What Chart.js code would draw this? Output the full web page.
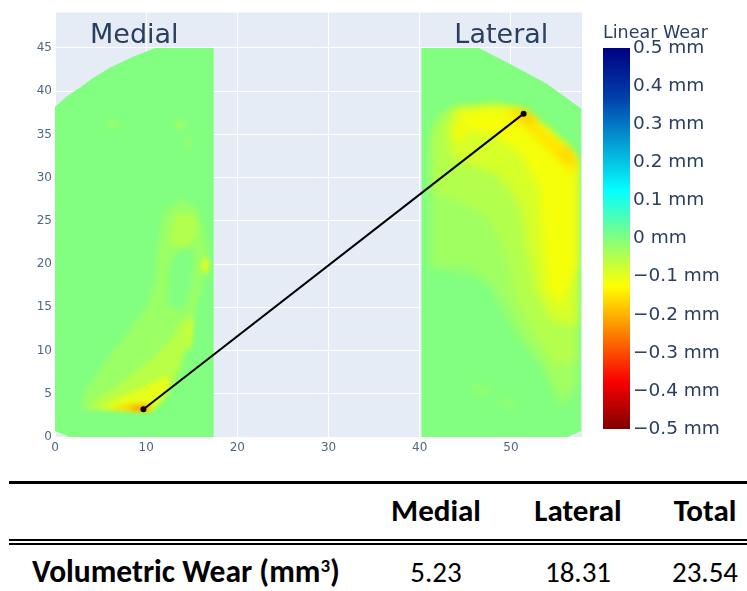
<!DOCTYPE html>
<html>
<head>
<meta charset="utf-8">
<script src="https://cdn.jsdelivr.net/npm/chart.js@4.4.1/dist/chart.umd.min.js"></script>
<style>
  html, body { margin: 0; padding: 0; background: #fff; }
  body { position: relative; width: 747px; height: 591px; overflow: hidden; }
  #chartBox { position: absolute; left: 0; top: 0; width: 747px; height: 460px; }
  .rule { position: absolute; left: 9px; right: 0; background: #000; }
  .cell { position: absolute; width: 150px; margin-left: -75px; text-align: center;
          font-family: "Carlito", "Lato", "Roboto", sans-serif; font-size: 29px; color: #000; line-height: 1; }
  .head { font-weight: bold; font-size: 31px; }
  .label { position: absolute; left: 32px; font-family: "Carlito", "Lato", "Roboto", sans-serif;
           font-weight: bold; font-size: 31.5px; color: #000; line-height: 1; }
  .label sup { font-size: 0.6em; vertical-align: 0.55em; line-height: 0; }
</style>
</head>
<body>
<div id="chartBox"><canvas id="wearChart" width="747" height="460"></canvas></div>
<div id="table"></div>

<script>
// axis ticks
const xTicks = [0, 10, 20, 30, 40, 50];
const yTicks = [0, 5, 10, 15, 20, 25, 30, 35, 40, 45];
const barTicks = [0.5, 0.4, 0.3, 0.2, 0.1, 0, -0.1, -0.2, -0.3, -0.4, -0.5];

// plateau outlines (mm)
const medialOutline = [[0, 38.2], [1.3, 39.4], [2.7, 40.4], [4.3, 41.6], [6, 42.7], [8.6, 44], [11, 45], [17.4, 45], [17.4, 0], [1.6, 0], [0, 0.7]];
const lateralOutline = [[40.2, 45], [46.5, 45], [49.8, 43.2], [53.9, 40.9], [57.7, 38], [57.7, 0.7], [56.2, 0], [40.2, 0]];

// linear wear patches: [wear mm, outline]
const medialPatches = [
  [-0.025, [[2.8, 3.3], [10.4, 3.1], [11.9, 4.3], [14, 8.1], [15.1, 13.2], [16.2, 18.2], [16.9, 20.5], [16.4, 23.5], [15.6, 26.5], [13.8, 27.5], [12, 26], [11.2, 22], [11, 18], [10, 15], [7.5, 11.5], [5, 8], [3.2, 5]]],
  [0, [[12.3, 15.5], [14, 14.5], [15, 17.5], [15.3, 21.5], [14, 22], [12.5, 20]]],
  [-0.055, [[3.5, 3.3], [10.4, 3.1], [11.9, 4.3], [13.3, 7.2], [14.3, 10.5], [14.8, 13.5], [14, 13.5], [12.5, 11], [10, 8.5], [7, 6], [4.5, 4.3]]],
  [-0.1, [[4.8, 3.3], [10.4, 3.1], [11.7, 4.3], [12.7, 6.5], [12, 7], [9.5, 5.6], [7, 4.5]]],
  [-0.17, [[6, 3.2], [10.3, 3.05], [10.9, 3.5], [10, 3.9], [8, 3.8]]],
  [-0.24, [[8, 3.15], [10, 3.05], [10.3, 3.4], [9, 3.5]]],
  [-0.08, [[14.3, 10], [14.9, 10.3], [15.2, 13.5], [14.8, 14], [14.4, 12]]],
  [-0.05, [[12.5, 22.5], [14.3, 21.8], [15.6, 23.5], [15.3, 25.8], [13.3, 25.8]]]
];
const lateralPatches = [
  [-0.03, [[41.2, 35.3], [42, 36.9], [43.8, 38.2], [48.5, 38.5], [51.1, 37.9], [54, 35.6], [56.2, 33.5], [57.2, 31.9], [57.2, 6], [55.5, 3.5], [53.3, 8.5], [50.4, 12.5], [47.9, 17.5], [45, 19.5], [41.2, 19.5]]],
  [-0.05, [[41.5, 34.5], [42.3, 36.7], [43.8, 38], [48.5, 38.3], [51.1, 37.7], [54, 35.4], [56.2, 33.3], [57.2, 31.7], [57.2, 9], [55, 8], [52.5, 12], [50.5, 16], [49.5, 21], [47.5, 25.5], [44, 27.5], [41.5, 28.5]]],
  [-0.085, [[43, 35.5], [43.8, 37.8], [48.5, 38.2], [51.1, 37.6], [54, 35.3], [56.2, 33.2], [57.2, 31.6], [57.2, 13], [54.5, 13.5], [52.7, 17], [51.8, 22], [51, 27], [48.5, 30.5], [45.5, 31.5], [43.5, 32.5]]],
  [-0.115, [[44, 37.5], [48.5, 38.1], [51.1, 37.6], [54, 35.3], [56.2, 33.2], [57.2, 31.6], [57.2, 20], [55.5, 15], [54, 17], [53.5, 23], [53, 29], [51, 33], [48, 35], [45, 35.5]]],
  [-0.15, [[49.5, 38], [51.1, 37.7], [54, 35.4], [56.2, 33.3], [57.2, 31.7], [57.2, 30.5], [55.8, 31.5], [53.8, 33.5], [51.5, 35.8], [49.8, 37.2]]],
  [-0.18, [[50.8, 37.8], [51.5, 37.7], [53, 36.5], [52.2, 36.2], [51, 37]]],
  [-0.17, [[55.5, 33.7], [56.4, 33.1], [57.2, 31.8], [56.6, 31.7], [55.4, 33]]]
];
// small wear spots: [x, y, rx, ry, wear mm]
const medialSpots = [[16.5, 19.8, 0.35, 0.9, -0.11], [6.4, 36.1, 0.8, 0.5, -0.02], [13.7, 36.1, 0.5, 0.5, -0.035], [14.5, 34, 0.4, 1, -0.015]];
const lateralSpots = [[44.4, 35.3, 0.6, 0.9, -0.13], [46.8, 5.4, 1.2, 0.5, -0.02], [49.6, 3.9, 1, 0.4, -0.02], [44.9, 19.3, 0.8, 0.6, -0.02]];

// measured path between the two deepest points
const wearPath = [{x: 9.7, y: 3.2}, {x: 51.4, y: 37.4}];

// table
const tableCols = ['Medial', 'Lateral', 'Total'];
const volumetricWear = [5.23, 18.31, 23.54];

const textColor = '#2a3f5f';
const jetStops = [[0.5, [0, 0, 131]], [0.375, [0, 60, 170]], [0.125, [5, 255, 255]], [-0.125, [255, 255, 0]], [-0.375, [250, 0, 0]], [-0.5, [128, 0, 0]]];

function jet(v) {
    v = Math.max(-0.5, Math.min(0.5, v));
    for (let i = 0; i < jetStops.length - 1; i++) {
        const [a, ca] = jetStops[i], [b, cb] = jetStops[i + 1];
        if (v <= a && v >= b) {
            const f = (a - v) / (a - b);
            const c = ca.map((k, j) => Math.round(k + (cb[j] - k) * f));
            return `rgb(${c[0]},${c[1]},${c[2]})`;
        }
    }
    return 'rgb(128,0,0)';
}

const heatPlugin = {
    id: 'heat',
    beforeDraw(chart) {
        const {ctx, chartArea: a} = chart;
        ctx.save();
        ctx.fillStyle = '#E5ECF6';
        ctx.fillRect(a.left, a.top, a.right - a.left, a.bottom - a.top);
        ctx.restore();
    },
    beforeDatasetsDraw(chart) {
        const {ctx, scales: {x, y}} = chart;
        const path = pts => {
            ctx.beginPath();
            pts.forEach(([px, py], i) => {
                const X = x.getPixelForValue(px), Y = y.getPixelForValue(py);
                i ? ctx.lineTo(X, Y) : ctx.moveTo(X, Y);
            });
            ctx.closePath();
        };
        const region = (outline, patches, spots, blur) => {
            ctx.save();
            path(outline);
            ctx.fillStyle = jet(0);
            ctx.fill();
            ctx.clip();
            ctx.filter = `blur(${blur}px)`;
            patches.forEach(([w, pts]) => {
                ctx.fillStyle = jet(w);
                path(pts);
                ctx.fill();
            });
            spots.forEach(([sx, sy, rx, ry, w]) => {
                const X = x.getPixelForValue(sx), Y = y.getPixelForValue(sy);
                const RX = Math.abs(x.getPixelForValue(sx + rx) - X), RY = Math.abs(y.getPixelForValue(sy + ry) - Y);
                ctx.fillStyle = jet(w);
                ctx.beginPath();
                ctx.ellipse(X, Y, RX, RY, 0, 0, Math.PI * 2);
                ctx.fill();
            });
            ctx.restore();
        };
        region(medialOutline, medialPatches, medialSpots, 2.5);
        region(lateralOutline, lateralPatches, lateralSpots, 4.5);
    },
    afterDatasetsDraw(chart) {
        const {ctx, scales: {x, y}} = chart;
        ctx.save();
        ctx.fillStyle = textColor;
        ctx.font = '27px "DejaVu Sans"';
        ctx.textAlign = 'center';
        ctx.textBaseline = 'alphabetic';
        [['Medial', medialOutline], ['Lateral', lateralOutline]].forEach(([name, outline]) => {
            const xs = outline.map(p => p[0]);
            const cx = (Math.min(...xs) + Math.max(...xs)) / 2;
            ctx.fillText(name, x.getPixelForValue(cx), y.getPixelForValue(45.6));
        });
        ctx.restore();
    },
    afterDraw(chart) {
        const {ctx} = chart;
        const left = 603, w = 27, top = 48, bottom = 429;
        ctx.save();
        const g = ctx.createLinearGradient(0, top, 0, bottom);
        jetStops.forEach(([v, c]) => g.addColorStop(0.5 - v, `rgb(${c[0]},${c[1]},${c[2]})`));
        ctx.fillStyle = g;
        ctx.fillRect(left, top, w, bottom - top);
        ctx.fillStyle = textColor;
        ctx.font = '17.5px "DejaVu Sans"';
        ctx.textAlign = 'left';
        ctx.textBaseline = 'alphabetic';
        ctx.fillText('Linear Wear', left, 38);
        ctx.font = '18.5px "DejaVu Sans"';
        ctx.textBaseline = 'middle';
        barTicks.forEach(v => {
            const py = top + (0.5 - v) * (bottom - top);
            const txt = (v < 0 ? '\u2212' + Math.abs(v) : String(v)) + ' mm';
            ctx.fillText(txt, left + w + 3, py);
        });
        ctx.restore();
    }
};

new Chart(document.getElementById('wearChart'), {
    type: 'scatter',
    data: {
        datasets: [{
            data: wearPath,
            showLine: true,
            borderColor: '#000',
            borderWidth: 2,
            pointRadius: 3,
            pointBackgroundColor: '#000',
            pointBorderWidth: 0
        }]
    },
    options: {
        responsive: false,
        animation: false,
        layout: {padding: {top: 12.5, right: 165, left: 0, bottom: 0}},
        plugins: {legend: {display: false}, tooltip: {enabled: false}},
        scales: {
            x: {
                type: 'linear', min: 0, max: 57.8,
                afterBuildTicks: s => { s.ticks = xTicks.map(v => ({value: v})); },
                afterFit: s => { s.height = 23; },
                grid: {color: '#fff', lineWidth: 1, drawTicks: false},
                border: {display: false},
                ticks: {color: '#506784', font: {family: 'DejaVu Sans', size: 12}, padding: 4, maxRotation: 0}
            },
            y: {
                type: 'linear', min: 0, max: 49.1,
                afterBuildTicks: s => { s.ticks = yTicks.map(v => ({value: v})); },
                afterFit: s => { s.width = 55; },
                grid: {color: '#fff', lineWidth: 1, drawTicks: false},
                border: {display: false},
                ticks: {color: '#506784', font: {family: 'DejaVu Sans', size: 12}, padding: 3}
            }
        }
    },
    plugins: [heatPlugin]
});

// table below the chart
const table = document.getElementById('table');
const colX = [436, 578, 705];
table.innerHTML =
    '<div class="rule" style="top:481px;height:2.5px"></div>' +
    tableCols.map((c, i) => `<div class="cell head" style="left:${colX[i]}px;top:495px">${c}</div>`).join('') +
    '<div class="rule" style="top:539px;height:2px"></div>' +
    '<div class="rule" style="top:542.5px;height:2px"></div>' +
    '<div class="label" style="top:556px">Volumetric Wear (mm<sup>3</sup>)</div>' +
    volumetricWear.map((v, i) => `<div class="cell" style="left:${colX[i]}px;top:558px">${v.toFixed(2)}</div>`).join('');
</script>
</body>
</html>
